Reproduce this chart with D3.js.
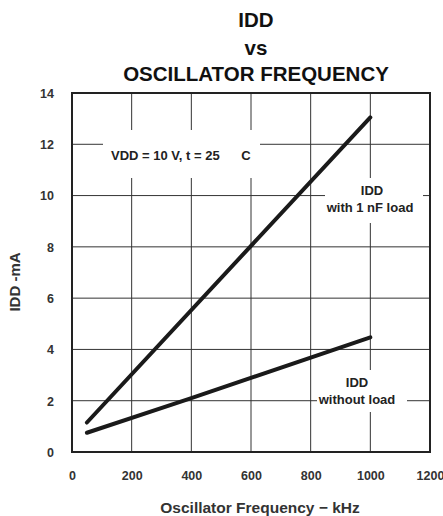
<!DOCTYPE html>
<html><head><meta charset="utf-8">
<script src="https://cdn.jsdelivr.net/npm/d3@7"></script>
<style>body{margin:0;background:#fff;} svg{display:block;font-family:"Liberation Sans",Arial,sans-serif;font-weight:bold;}</style>
</head><body>
<svg id="c" width="443" height="516"></svg>
<script>
const xTicks = [0, 200, 400, 600, 800, 1000, 1200];
const yTicks = [0, 2, 4, 6, 8, 10, 12, 14];
const freqLoad = [50, 1000];
const iddLoad = [1.15, 13.05];
const freqNoLoad = [50, 400, 1000];
const iddNoLoad = [0.75, 2.1, 4.47];
const titleLines = ["IDD", "vs", "OSCILLATOR FREQUENCY"];

const svg = d3.select("#c");
const L = 72, R = 430, T = 93, B = 452;
const x = d3.scaleLinear().domain([0, 1200]).range([L, R]);
const y = d3.scaleLinear().domain([0, 14]).range([B, T]);

// grid
const g = svg.append("g");
g.selectAll(".vx").data(xTicks.slice(1, -1)).enter().append("line")
  .attr("x1", d => x(d)).attr("x2", d => x(d)).attr("y1", T).attr("y2", B)
  .attr("stroke", "#333").attr("stroke-width", 1);
g.selectAll(".hy").data(yTicks.slice(1, -1)).enter().append("line")
  .attr("y1", d => y(d)).attr("y2", d => y(d)).attr("x1", L).attr("x2", R)
  .attr("stroke", "#333").attr("stroke-width", 1);

// label boxes (white masks over grid)
const boxes = [
  {x0: 103, y0: 130, x1: 260, y1: 178},
  {x0: 325, y0: 178, x1: 423, y1: 223},
  {x0: 317, y0: 370, x1: 407, y1: 412}
];
svg.selectAll(".box").data(boxes).enter().append("rect")
  .attr("x", d => d.x0).attr("y", d => d.y0)
  .attr("width", d => d.x1 - d.x0).attr("height", d => d.y1 - d.y0)
  .attr("fill", "#fff");

// frame
svg.append("rect").attr("x", L).attr("y", T).attr("width", R - L).attr("height", B - T)
  .attr("fill", "none").attr("stroke", "#222").attr("stroke-width", 2);

// lines
const line = d3.line().x(d => x(d[0])).y(d => y(d[1]));
svg.append("path").datum(d3.zip(freqLoad, iddLoad)).attr("d", line)
  .attr("fill", "none").attr("stroke", "#1a1a1a").attr("stroke-width", 4).attr("stroke-linecap", "round");
svg.append("path").datum(d3.zip(freqNoLoad, iddNoLoad)).attr("d", line.curve(d3.curveMonotoneX))
  .attr("fill", "none").attr("stroke", "#1a1a1a").attr("stroke-width", 4).attr("stroke-linecap", "round");

// axes tick labels
const xa = d3.axisBottom(x).tickValues(xTicks).tickFormat(d3.format("d")).tickSize(0).tickPadding(0);
const xg = svg.append("g").attr("transform", `translate(0,${B})`).call(xa);
xg.select(".domain").remove();
xg.selectAll("text").attr("y", 28).attr("dy", 0).attr("font-size", 12.5).attr("font-family", "Liberation Sans, Arial").attr("font-weight", "bold").attr("fill", "#333");

const ya = d3.axisLeft(y).tickValues(yTicks).tickFormat(d3.format("d")).tickSize(0).tickPadding(0);
const yg = svg.append("g").attr("transform", `translate(${L},0)`).call(ya);
yg.select(".domain").remove();
yg.selectAll("text").attr("x", -18).attr("dy", "0.35em").attr("font-size", 12.5).attr("font-family", "Liberation Sans, Arial").attr("font-weight", "bold").attr("fill", "#333");

// titles
const titleY = [27, 55, 81];
svg.selectAll(".t").data(titleLines).enter().append("text")
  .attr("x", 256).attr("y", (d, i) => titleY[i]).attr("text-anchor", "middle")
  .attr("font-size", 20.5).attr("fill", "#111").text(d => d);

svg.append("text").attr("x", 260).attr("y", 513).attr("text-anchor", "middle")
  .attr("font-size", 15.5).attr("fill", "#333").text("Oscillator Frequency \u2212 kHz");
svg.append("text").attr("transform", "translate(20,282) rotate(-90)").attr("text-anchor", "middle")
  .attr("font-size", 15).attr("fill", "#333").text("IDD -mA");

// annotations
svg.append("text").attr("x", 111).attr("y", 160).attr("font-size", 13).attr("fill", "#222")
  .attr("xml:space", "preserve").text("VDD = 10 V, t = 25      C");
const ann = [
  {x: 372, y: 195, t: "IDD"}, {x: 370, y: 212, t: "with 1 nF load"},
  {x: 357, y: 387, t: "IDD"}, {x: 357, y: 404, t: "without load"}
];
svg.selectAll(".a").data(ann).enter().append("text")
  .attr("x", d => d.x).attr("y", d => d.y).attr("text-anchor", "middle")
  .attr("font-size", 13).attr("fill", "#222").text(d => d.t);
</script>
</body></html>
